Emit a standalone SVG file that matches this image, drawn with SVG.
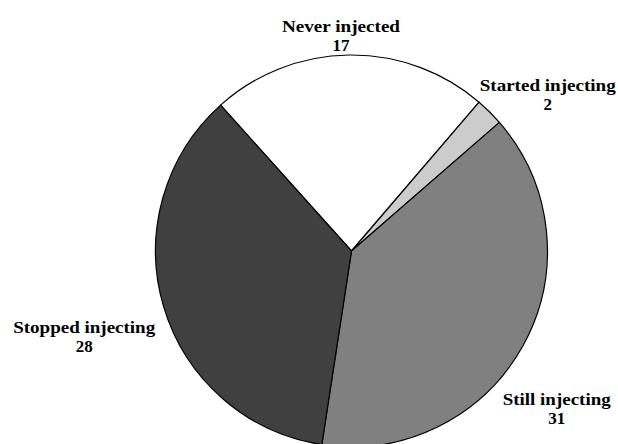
<svg xmlns="http://www.w3.org/2000/svg" width="618" height="444" viewBox="0 0 618 444">
<style>
.sl{stroke:#000;stroke-width:1.2;stroke-linejoin:round}
.lb{font-family:"Liberation Serif","Times New Roman",serif;font-weight:bold;font-size:17px;fill:#000;text-anchor:middle}
</style>
<rect width="618" height="444" fill="#fff"/>
<g id="slices">
<g id="never"><path class="sl" fill="#ffffff" d="M351.5,251 L220.6,105.1 A196,196 0 0 1 479.1,102.2 Z"/></g>
<g id="started"><path class="sl" fill="#cccccc" d="M351.5,251 L479.1,102.2 A196,196 0 0 1 499.4,122.4 Z"/></g>
<g id="still"><path class="sl" fill="#808080" d="M351.5,251 L499.4,122.4 A196,196 0 0 1 321.8,444.7 Z"/></g>
<g id="stopped"><path class="sl" fill="#404040" d="M351.5,251 L321.8,444.7 A196,196 0 0 1 220.6,105.1 Z"/></g>
</g>
<g id="labels">
<g id="lbl-never"><text class="lb" x="341" y="31.5" textLength="118" lengthAdjust="spacingAndGlyphs">Never injected</text><text class="lb" x="341" y="50.5">17</text></g>
<g id="lbl-started"><text class="lb" x="547.7" y="90.7" textLength="136" lengthAdjust="spacingAndGlyphs">Started injecting</text><text class="lb" x="547.7" y="109.5">2</text></g>
<g id="lbl-stopped"><text class="lb" x="84.2" y="332.7" textLength="142" lengthAdjust="spacingAndGlyphs">Stopped injecting</text><text class="lb" x="84.2" y="351.7">28</text></g>
<g id="lbl-still"><text class="lb" x="556.7" y="404.5" textLength="108" lengthAdjust="spacingAndGlyphs">Still injecting</text><text class="lb" x="556.7" y="423.5">31</text></g>
</g>
</svg>
